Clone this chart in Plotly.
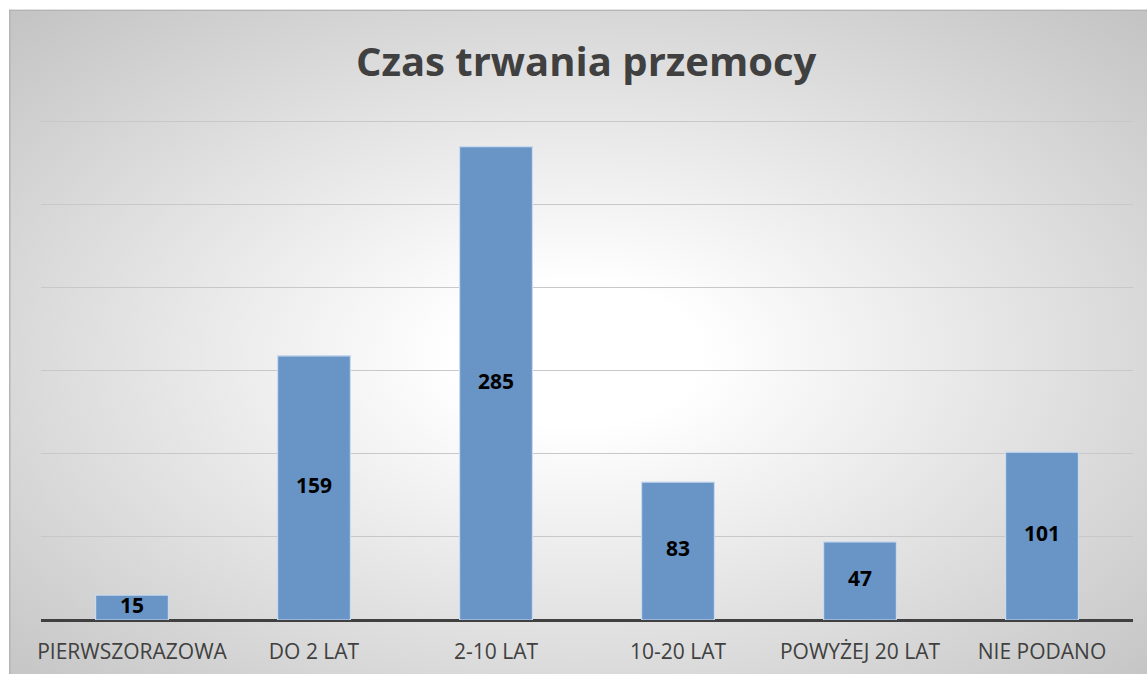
import base64
import plotly.graph_objects as go

categories = ["PIERWSZORAZOWA", "DO 2 LAT", "2-10 LAT", "10-20 LAT", "POWYŻEJ 20 LAT", "NIE PODANO"]
values = [15, 159, 285, 83, 47, 101]
title_text = "Czas trwania przemocy"

W, H = 1147, 676
L, R, B = 41, 14, 56
PX_PER_UNIT = 498 / 300
YTOP = 310
ph = YTOP * PX_PER_UNIT
T = H - B - ph
pw = W - L - R

# background panel with radial gradient
bx0, by0, bx1, by1 = 9, 10, 1147, 674
svg = f'''<svg xmlns="http://www.w3.org/2000/svg" width="{bx1-bx0}" height="{by1-by0}" viewBox="0 0 {bx1-bx0} {by1-by0}" preserveAspectRatio="none">
<defs><radialGradient id="g" cx="0.5" cy="0.52" r="0.71">
<stop offset="0" stop-color="#ffffff"/>
<stop offset="0.15" stop-color="#ffffff"/>
<stop offset="1" stop-color="#c4c4c4"/>
</radialGradient></defs>
<rect x="0" y="0" width="{bx1-bx0}" height="{by1-by0}" fill="url(#g)"/>
<line x1="0" y1="0.75" x2="{bx1-bx0}" y2="0.75" stroke="#b4b4b4" stroke-width="1.5"/>
<line x1="0.75" y1="0" x2="0.75" y2="{by1-by0}" stroke="#b4b4b4" stroke-width="1.5"/>
</svg>'''
src = "data:image/svg+xml;base64," + base64.b64encode(svg.encode()).decode()

def px_to_paper_x(px):
    return (px - L) / pw

def py_to_paper_y(py):
    return (H - B - py) / ph

fig = go.Figure()
fig.add_trace(go.Bar(
    x=categories, y=values,
    width=0.4,
    marker=dict(color="#6894c6", line=dict(color="#c9d9ee", width=1.2)),
    hoverinfo="skip",
))
fig.add_trace(go.Scatter(
    x=categories, y=[v / 2 for v in values],
    mode="text",
    text=[str(v) for v in values],
    textposition="middle center",
    textfont=dict(family="Open Sans", size=21, color="#000000", weight="bold"),
    hoverinfo="skip",
    cliponaxis=False,
))

fig.add_layout_image(dict(
    source=src, xref="paper", yref="paper",
    x=px_to_paper_x(bx0), y=py_to_paper_y(by0),
    sizex=(bx1 - bx0) / pw, sizey=(by1 - by0) / ph,
    sizing="stretch", xanchor="left", yanchor="top", layer="below",
))

fig.update_layout(
    width=W, height=H,
    margin=dict(l=L, r=R, t=T, b=B, autoexpand=False),
    paper_bgcolor="#ffffff",
    plot_bgcolor="rgba(0,0,0,0)",
    showlegend=False,
    title=dict(text=title_text, x=0.511, xanchor="center", y=1 - 62 / H, yanchor="middle",
               font=dict(family="Open Sans", size=40, color="#404040", weight="bold")),
    xaxis=dict(showgrid=False, showline=False, ticks="", zeroline=False,
               ticklabelstandoff=17,
               tickfont=dict(family="Open Sans", size=21, color="#404040")),
    yaxis=dict(range=[0, YTOP], tickvals=[50, 100, 150, 200, 250, 300], showgrid=True,
               gridcolor="#c8c8c8", gridwidth=1.3,
               showticklabels=False, zeroline=True, zerolinecolor="#404040", zerolinewidth=3,
               showline=False, ticks=""),
    bargap=0.6,
)
fig.write_html("out.html", config={"displayModeBar": False},
               post_script="document.body.style.margin='0';document.body.style.padding='0';")
